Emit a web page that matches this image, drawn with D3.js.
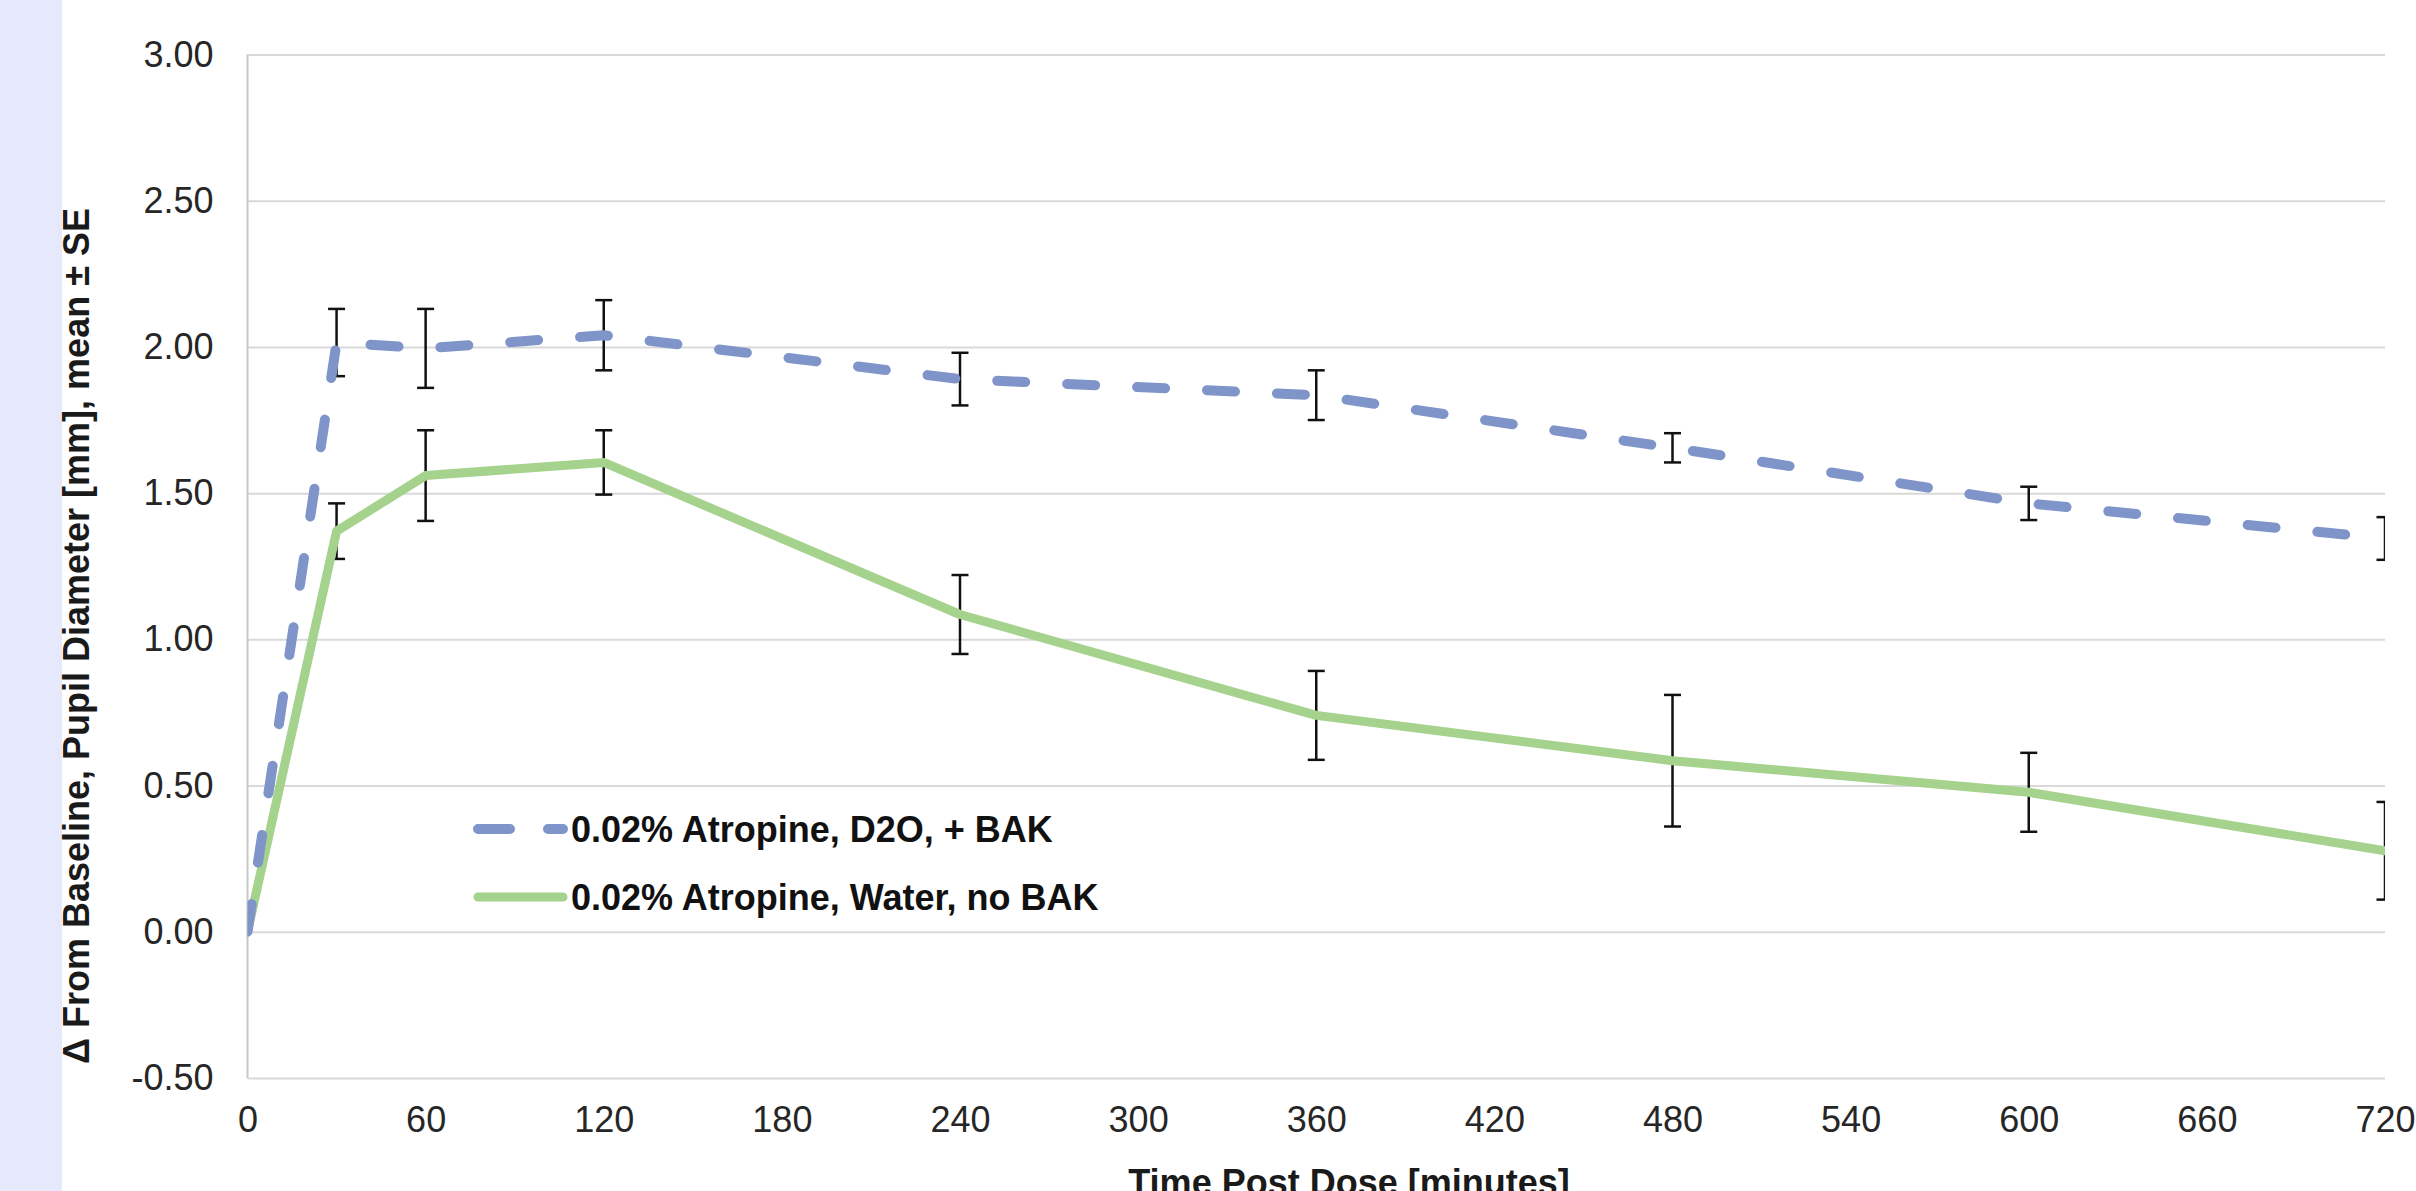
<!DOCTYPE html>
<html>
<head>
<meta charset="utf-8">
<script src="https://cdn.jsdelivr.net/npm/d3@7"></script>
<style>
  html, body { margin: 0; padding: 0; background: #fff; overflow: hidden; }
  svg { display: block; font-family: "Liberation Sans", Arial, sans-serif; }
</style>
</head>
<body>
<svg id="chart"></svg>
<script>
// time points (minutes post dose)
var times = [0, 30, 60, 120, 240, 360, 480, 600, 720];

// 0.02% Atropine, D2O, + BAK
var d2oMean = [0, 2.015, 1.995, 2.04, 1.89, 1.835, 1.655, 1.465, 1.345];
var d2oSE   = [0, 0.115, 0.135, 0.12, 0.09, 0.085, 0.05, 0.057, 0.073];

// 0.02% Atropine, Water, no BAK
var waterMean = [0, 1.37, 1.56, 1.605, 1.085, 0.74, 0.585, 0.477, 0.277];
var waterSE   = [0, 0.095, 0.155, 0.11, 0.135, 0.152, 0.225, 0.135, 0.167];

var xTicks = [0, 60, 120, 180, 240, 300, 360, 420, 480, 540, 600, 660, 720];
var yTicks = [-0.5, 0, 0.5, 1, 1.5, 2, 2.5, 3];

var seriesNames = ["0.02% Atropine, D2O, + BAK", "0.02% Atropine, Water, no BAK"];

var width = 2416,
  height = 1191;

var blue = "#7f94c8",
  green = "#a5d28c";

var svg = d3.select("#chart")
  .attr("width", width)
  .attr("height", height);

// lavender strip on the left
svg.append("rect")
  .attr("x", 0).attr("y", 0)
  .attr("width", 62).attr("height", height)
  .attr("fill", "#e6e8fb");

var x = d3.scaleLinear().domain([0, 720]).range([247.5, 2385]);
var y = d3.scaleLinear().domain([-0.5, 3]).range([1078, 54.5]);

var fmt = d3.format(".2f");

// gridlines + y labels
var yAxis = svg.append("g")
  .attr("transform", "translate(" + x(0) + ",0)")
  .call(d3.axisLeft(y).tickValues(yTicks)
    .tickFormat(function (d) { return fmt(d).replace("\u2212", "-"); })
    .tickSize(-(x(720) - x(0))).tickPadding(34));
yAxis.select(".domain").remove();
yAxis.selectAll(".tick line").attr("stroke", "#d9d9d9").attr("stroke-width", 2);
yAxis.selectAll(".tick text")
  .attr("font-size", 36)
  .attr("fill", "#262626")
  .attr("font-family", "'Liberation Sans', Arial, sans-serif");

// left axis line
svg.append("line")
  .attr("x1", x(0)).attr("x2", x(0))
  .attr("y1", y(3)).attr("y2", y(-0.5))
  .attr("stroke", "#c8c8c8").attr("stroke-width", 2);

// x labels
var xAxis = svg.append("g")
  .attr("transform", "translate(0," + y(-0.5) + ")")
  .call(d3.axisBottom(x).tickValues(xTicks).tickSize(0).tickPadding(28));
xAxis.select(".domain").remove();
xAxis.selectAll(".tick text")
  .attr("font-size", 36)
  .attr("fill", "#262626")
  .attr("font-family", "'Liberation Sans', Arial, sans-serif");

// axis titles
svg.append("text")
  .attr("transform", "translate(" + 89 + "," + 636 + ") rotate(-90)")
  .attr("text-anchor", "middle")
  .attr("font-size", 36)
  .attr("font-weight", "bold")
  .attr("fill", "#1a1a1a")
  .text("\u0394 From Baseline, Pupil Diameter [mm], mean \u00b1 SE");

svg.append("text")
  .attr("x", 1349)
  .attr("y", 1195)
  .attr("text-anchor", "middle")
  .attr("font-size", 36)
  .attr("font-weight", "bold")
  .attr("fill", "#1a1a1a")
  .text("Time Post Dose [minutes]");

// clip to plot area
svg.append("clipPath").attr("id", "plotClip")
  .append("rect")
  .attr("x", x(0)).attr("y", y(3))
  .attr("width", x(720) - x(0)).attr("height", y(-0.5) - y(3));

var plot = svg.append("g").attr("clip-path", "url(#plotClip)");

function rows(means, ses) {
  return times.map(function (t, i) { return { t: t, m: means[i], se: ses[i] }; });
}

var series = [
  { name: seriesNames[0], data: rows(d2oMean, d2oSE), color: blue, dash: "28,42", w: 10 },
  { name: seriesNames[1], data: rows(waterMean, waterSE), color: green, dash: null, w: 9 }
];

// error bars (under the lines)
var cap = 8.5;
series.forEach(function (s) {
  var eb = plot.append("g").selectAll("g")
    .data(s.data.filter(function (d) { return d.se > 0; }))
    .enter().append("g")
    .attr("stroke", "#111")
    .attr("stroke-width", 2.5)
    .attr("fill", "none");
  eb.append("line")
    .attr("x1", function (d) { return x(d.t); })
    .attr("x2", function (d) { return x(d.t); })
    .attr("y1", function (d) { return y(d.m + d.se); })
    .attr("y2", function (d) { return y(d.m - d.se); });
  eb.append("line")
    .attr("x1", function (d) { return x(d.t) - cap; })
    .attr("x2", function (d) { return x(d.t) + cap; })
    .attr("y1", function (d) { return y(d.m + d.se); })
    .attr("y2", function (d) { return y(d.m + d.se); });
  eb.append("line")
    .attr("x1", function (d) { return x(d.t) - cap; })
    .attr("x2", function (d) { return x(d.t) + cap; })
    .attr("y1", function (d) { return y(d.m - d.se); })
    .attr("y2", function (d) { return y(d.m - d.se); });
});

var line = d3.line()
  .x(function (d) { return x(d.t); })
  .y(function (d) { return y(d.m); });

// draw green first, dashed blue on top
[series[1], series[0]].forEach(function (s) {
  plot.append("path")
    .datum(s.data)
    .attr("d", line)
    .attr("fill", "none")
    .attr("stroke", s.color)
    .attr("stroke-width", s.w)
    .attr("stroke-linecap", "round")
    .attr("stroke-linejoin", "round")
    .attr("stroke-dasharray", s.dash);
});

// legend
var legend = svg.append("g");
var legY = [829, 897];
series.forEach(function (s, i) {
  legend.append("line")
    .attr("x1", 478).attr("x2", 563)
    .attr("y1", legY[i]).attr("y2", legY[i])
    .attr("stroke", s.color)
    .attr("stroke-width", s.w)
    .attr("stroke-linecap", "round")
    .attr("stroke-dasharray", s.dash ? "32,38" : null);
  legend.append("text")
    .attr("x", 571)
    .attr("y", legY[i] + 13)
    .attr("font-size", 36)
    .attr("font-weight", "bold")
    .attr("fill", "#111")
    .text(s.name);
});
</script>
</body>
</html>
